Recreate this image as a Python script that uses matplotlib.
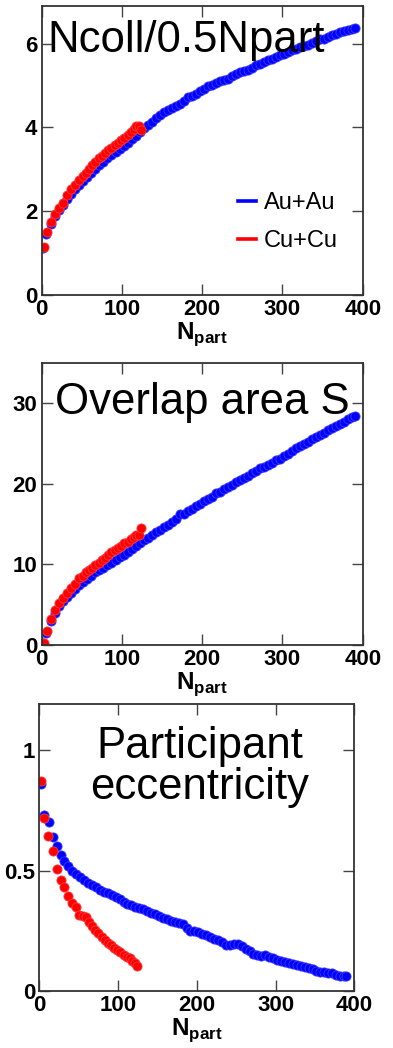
"""
Glauber quantities vs Npart for Au+Au and Cu+Cu, three stacked panels
"""

from matplotlib import pyplot as plt
from matplotlib.lines import Line2D
import matplotlib

matplotlib.rcParams['font.family'] = ['Liberation Sans', 'DejaVu Sans']
matplotlib.rcParams['mathtext.fontset'] = 'custom'
matplotlib.rcParams['mathtext.rm'] = 'Liberation Sans'
matplotlib.rcParams['mathtext.bf'] = 'Liberation Sans:bold'

# Au+Au
npart_au = [2, 6, 12, 17, 22, 27, 32, 37, 42, 47, 52, 57, 62, 67, 72, 77, 82, 87, 92, 97,
            102, 107, 112, 117, 122, 127, 132, 137, 142, 147, 152, 157, 162, 167, 172, 177,
            182, 187, 192, 197, 202, 207, 212, 217, 222, 227, 232, 237, 242, 247, 252, 257,
            262, 267, 272, 277, 282, 287, 292, 297, 302, 307, 312, 317, 322, 327, 332, 337,
            342, 347, 352, 357, 362, 367, 372, 377, 382, 387, 390]
ncoll_au = [1.12, 1.45, 1.70, 1.88, 2.02, 2.15, 2.30, 2.40, 2.52, 2.62, 2.72, 2.82, 2.92, 3.02,
            3.10, 3.18, 3.27, 3.35, 3.42, 3.49, 3.56, 3.64, 3.72, 3.80, 3.90, 3.98, 4.06, 4.14,
            4.22, 4.30, 4.36, 4.41, 4.46, 4.52, 4.56, 4.62, 4.72, 4.74, 4.80, 4.86, 4.92, 4.98,
            5.02, 5.06, 5.10, 5.14, 5.16, 5.22, 5.28, 5.32, 5.34, 5.38, 5.42, 5.48, 5.52, 5.56,
            5.60, 5.64, 5.68, 5.72, 5.76, 5.80, 5.84, 5.88, 5.92, 5.94, 5.98, 6.02, 6.06, 6.10,
            6.12, 6.16, 6.20, 6.24, 6.27, 6.30, 6.33, 6.36, 6.38]
area_au = [0.2, 1.5, 3.0, 4.0, 4.9, 5.5, 6.0, 6.5, 7.0, 7.4, 7.8, 8.2, 8.6, 9.0, 9.3, 9.6, 9.9,
           10.2, 10.6, 10.9, 11.2, 11.5, 11.9, 12.3, 12.7, 13.0, 13.3, 13.7, 14.0, 14.3, 14.6,
           14.9, 15.3, 15.6, 16.2, 16.3, 16.6, 16.9, 17.2, 17.5, 17.8, 18.1, 18.4, 18.8, 19.0,
           19.3, 19.6, 19.9, 20.2, 20.4, 20.7, 21.0, 21.3, 21.6, 21.9, 22.1, 22.3, 22.6, 22.9,
           23.1, 23.4, 23.7, 24.1, 24.4, 24.7, 24.9, 25.2, 25.5, 25.8, 26.0, 26.3, 26.6, 26.9,
           27.1, 27.4, 27.7, 28.0, 28.3, 28.4]
ecc_au = [0.86, 0.73, 0.70, 0.64, 0.60, 0.565, 0.54, 0.52, 0.50, 0.487, 0.475, 0.46, 0.45, 0.44,
          0.43, 0.418, 0.412, 0.408, 0.40, 0.392, 0.38, 0.37, 0.362, 0.358, 0.35, 0.345, 0.342,
          0.33, 0.325, 0.318, 0.31, 0.302, 0.298, 0.29, 0.287, 0.283, 0.28, 0.262, 0.25, 0.248,
          0.244, 0.238, 0.232, 0.222, 0.216, 0.21, 0.202, 0.192, 0.19, 0.196, 0.195, 0.185,
          0.175, 0.165, 0.155, 0.15, 0.146, 0.148, 0.14, 0.135, 0.13, 0.125, 0.12, 0.116, 0.112,
          0.108, 0.104, 0.098, 0.094, 0.09, 0.085, 0.08, 0.077, 0.074, 0.073, 0.067, 0.063,
          0.062, 0.062]

# Cu+Cu
npart_cu = [2.5, 6.5, 11.5, 17, 22, 27, 32, 37, 42, 47, 51, 55, 59, 63, 67, 71, 75, 79, 83, 87,
            91, 95, 99, 103, 107, 111, 115, 118, 121.5, 124]
ncoll_cu = [1.15, 1.50, 1.75, 1.93, 2.08, 2.20, 2.38, 2.52, 2.62, 2.74, 2.84, 2.92, 3.02, 3.10,
            3.18, 3.26, 3.33, 3.40, 3.46, 3.52, 3.57, 3.64, 3.70, 3.76, 3.83, 3.90, 3.97, 4.03,
            4.04, 3.93]
area_cu = [0.2, 1.7, 3.2, 4.3, 5.2, 5.8, 6.4, 7.1, 7.6, 8.3, 8.6, 9.0, 9.3, 9.6, 9.9, 10.2,
           10.5, 10.8, 11.2, 11.5, 11.8, 12.0, 12.3, 12.6, 12.8, 13.1, 13.4, 13.6, 13.7, 14.5]
ecc_cu = [0.87, 0.72, 0.645, 0.583, 0.508, 0.462, 0.43, 0.395, 0.365, 0.35, 0.315, 0.31, 0.305,
          0.285, 0.27, 0.255, 0.24, 0.225, 0.212, 0.2, 0.19, 0.18, 0.17, 0.16, 0.15, 0.142,
          0.135, 0.125, 0.115, 0.105]

labels = ["Au+Au", "Cu+Cu"]
x_ticks = [0, 100, 200, 300, 400]

fig = plt.figure(figsize=(3.93, 10.48), dpi=100)
ax1 = fig.add_axes([0.106, 0.7185, 0.817, 0.2758])
ax2 = fig.add_axes([0.106, 0.3845, 0.817, 0.2694])
ax3 = fig.add_axes([0.100, 0.0544, 0.8015, 0.2736])

panels = [
    (ax1, ncoll_au, ncoll_cu, 6.9, [0, 2, 4, 6], ["0", "2", "4", "6"]),
    (ax2, area_au, area_cu, 35, [0, 10, 20, 30], ["0", "10", "20", "30"]),
    (ax3, ecc_au, ecc_cu, 1.19, [0, 0.5, 1], ["0", "0.5", "1"]),
]

for ax, y_au, y_cu, ytop, yt, ytl in panels:
    ax.plot(npart_au, y_au, 'o', ms=6.6, color='#0000ff', mec='#3a3aff', mew=0.6)
    ax.plot(npart_cu, y_cu, 'o', ms=6.6, color='#ff0000', mec='#ff3a3a', mew=0.6)
    ax.set_xlim(0, 400)
    ax.set_ylim(0, ytop)
    ax.set_xticks(x_ticks)
    ax.set_xticklabels([str(t) for t in x_ticks], fontweight='bold', fontsize=16)
    ax.set_yticks(yt)
    ax.set_yticklabels(ytl, fontweight='bold', fontsize=16)
    ax.tick_params(direction='in', length=8, width=1, top=True, right=True,
                   color='#444444', pad=3)
    for s in ax.spines.values():
        s.set_linewidth(1.3)
        s.set_color('#333333')
    ax.set_xlabel(r'$\mathbf{N}_{\mathbf{part}}$', fontsize=17.5, labelpad=0)

ax1.text(0.018, 0.842, "Ncoll/0.5Npart", transform=ax1.transAxes, fontsize=31.5,
         ha='left', va='baseline')
ax2.text(0.04, 0.82, "Overlap area S", transform=ax2.transAxes, fontsize=31.5,
         ha='left', va='baseline')
ax3.text(0.51, 0.78, "Participant\neccentricity", transform=ax3.transAxes, fontsize=31.5,
         ha='center', va='center', multialignment='center', linespacing=1.0)

handles = [Line2D([], [], color='#0000ff', lw=2.6), Line2D([], [], color='#ff0000', lw=2.6)]
ax1.legend(handles, labels, loc='upper left', bbox_to_anchor=(0.61, 0.355), frameon=False,
           fontsize=17, handlelength=0.8, handletextpad=0.3, labelspacing=0.68,
           borderpad=0, borderaxespad=0)

plt.savefig("out.png", dpi=100)
